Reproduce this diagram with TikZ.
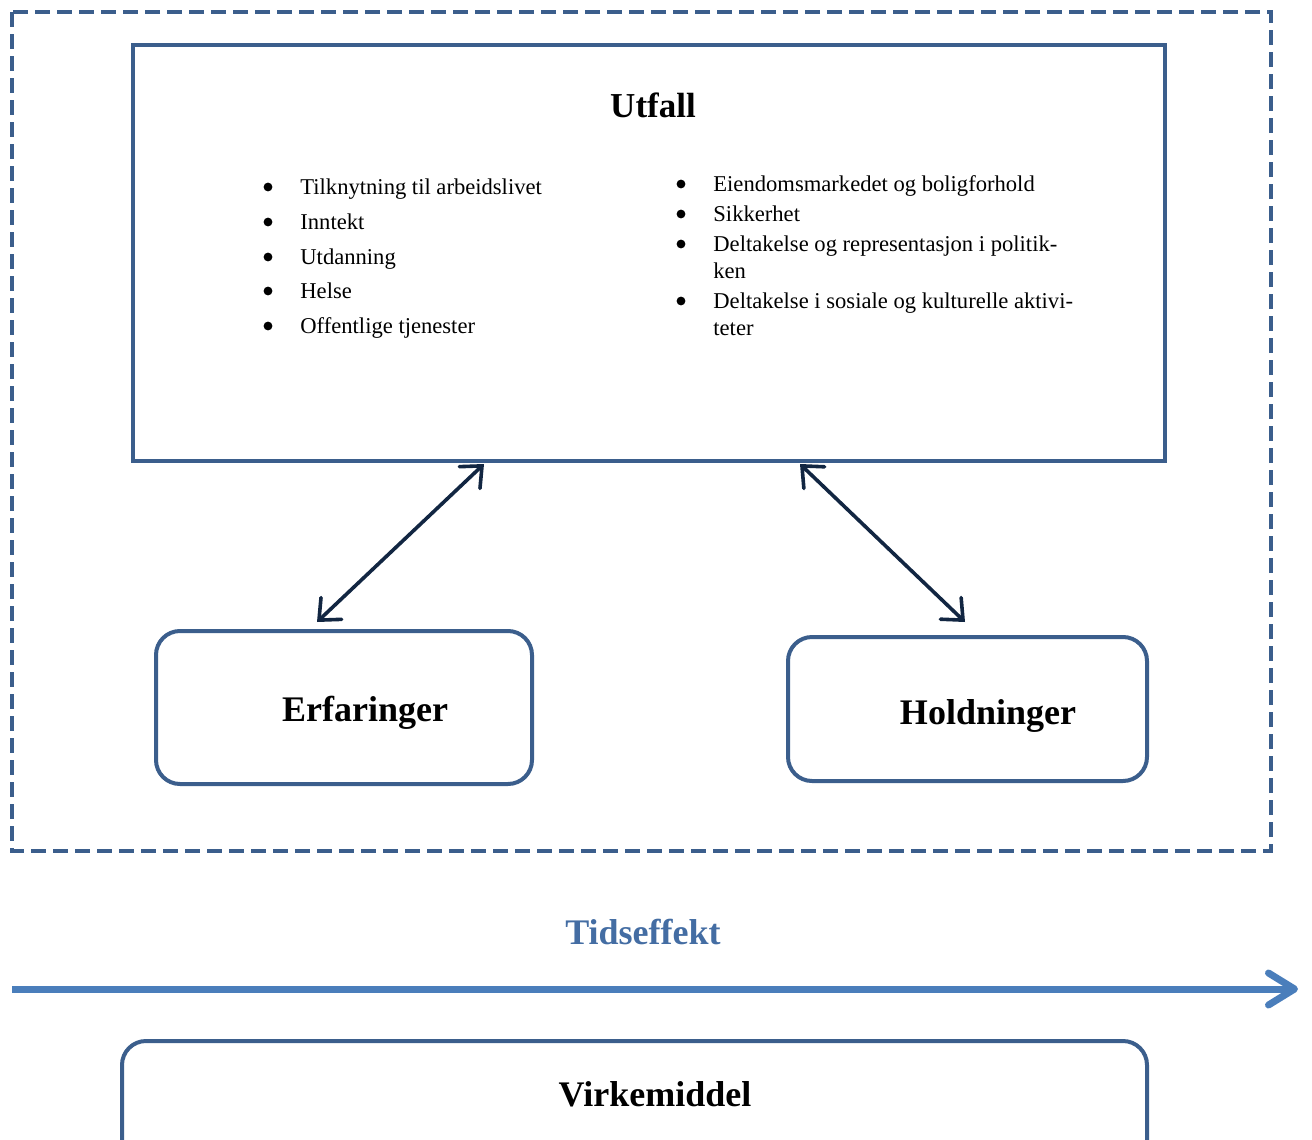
\documentclass[tikz,border=0pt]{standalone}
\usepackage{fontspec}
\setmainfont{Liberation Serif}
\usetikzlibrary{arrows.meta}
\definecolor{boxblue}{RGB}{59,94,140}
\definecolor{navy}{RGB}{18,38,66}
\definecolor{timeblue}{RGB}{74,126,187}
\definecolor{titleblue}{RGB}{68,109,163}
\tikzset{
  frame/.style={draw=boxblue, line width=2pt, dash pattern=on 7.5pt off 3.5pt},
  outbox/.style={draw=boxblue, line width=2pt, rectangle, inner sep=0pt},
  roundbox/.style={draw=boxblue, line width=2pt, rectangle, rounded corners=12pt, inner sep=0pt},
  heading/.style={font=\bfseries\fontsize{18}{20}\selectfont, inner sep=0pt, anchor=base},
  itemtext/.style={font=\fontsize{11.3}{13}\selectfont, inner sep=0pt, anchor=base west},
  bul/.style={circle, fill=black, inner sep=0pt, minimum size=4.4pt},
  dblarrow/.style={draw=navy, line width=1.8pt, {Straight Barb[length=8.5pt,width=15pt,line cap=round]}-{Straight Barb[length=8.5pt,width=15pt,line cap=round]}},
  timearrow/.style={draw=timeblue, line width=3.5pt, -{Straight Barb[length=13pt,width=16pt,line cap=round,line join=round]}}
}
\begin{document}
\begin{tikzpicture}[x=0.5pt,y=-0.5pt]
\useasboundingbox (0,0) rectangle (1312,1140);
\clip (0,0) rectangle (1312,1140);
% dashed frame
\draw[frame] (12,12) rectangle (1271,851);
% Utfall box
\node[outbox, minimum width=516pt, minimum height=208pt] (utfall) at (649,253) {};
\node[heading, font=\bfseries\fontsize{17.5}{20}\selectfont] (utfalltxt) at (653,117) {Utfall};
% left list
\node[bul] (bl1) at (268,187) {};
\node[bul] (bl2) at (268,222) {};
\node[bul] (bl3) at (268,257) {};
\node[bul] (bl4) at (268,291) {};
\node[bul] (bl5) at (268,326) {};
\node[itemtext] (tl1) at (300,194) {Tilknytning til arbeidslivet};
\node[itemtext] (tl2) at (300,229) {Inntekt};
\node[itemtext] (tl3) at (300,264) {Utdanning};
\node[itemtext] (tl4) at (300,298) {Helse};
\node[itemtext] (tl5) at (300,333) {Offentlige tjenester};
% right list
\node[bul] (br1) at (681,184) {};
\node[bul] (br2) at (681,214) {};
\node[bul] (br3) at (681,244) {};
\node[bul] (br4) at (681,301) {};
\node[itemtext] (tr1) at (713,191) {Eiendomsmarkedet og boligforhold};
\node[itemtext] (tr2) at (713,221) {Sikkerhet};
\node[itemtext] (tr3a) at (713,251) {Deltakelse og representasjon i politik-};
\node[itemtext] (tr3b) at (713,278) {ken};
\node[itemtext] (tr4a) at (713,308) {Deltakelse i sosiale og kulturelle aktivi-};
\node[itemtext] (tr4b) at (713,335) {teter};
% lower boxes
\node[roundbox, minimum width=188pt, minimum height=76.5pt] (erf) at (344,707.5) {};
\node[heading] (erftxt) at (365,721) {Erfaringer};
\node[roundbox, minimum width=179.5pt, minimum height=72pt] (hold) at (967.5,709) {};
\node[heading] (holdtxt) at (988,724) {Holdninger};
% double arrows
\coordinate (a1s) at (484,464);
\coordinate (a1e) at (317,622);
\coordinate (a2s) at (800,464);
\coordinate (a2e) at (965,622);
\draw[dblarrow] (a1s) -- (a1e);
\draw[dblarrow] (a2s) -- (a2e);
% time effect
\node[heading, text=titleblue] (tid) at (643,944) {Tidseffekt};
\coordinate (ts) at (12,989);
\coordinate (te) at (1298,989);
\draw[timearrow] (ts) -- (te);
% Virkemiddel
\node[roundbox, minimum width=512.5pt, minimum height=70pt] (virk) at (634.5,1111) {};
\node[heading] (virktxt) at (655,1106) {Virkemiddel};
\end{tikzpicture}
\end{document}
